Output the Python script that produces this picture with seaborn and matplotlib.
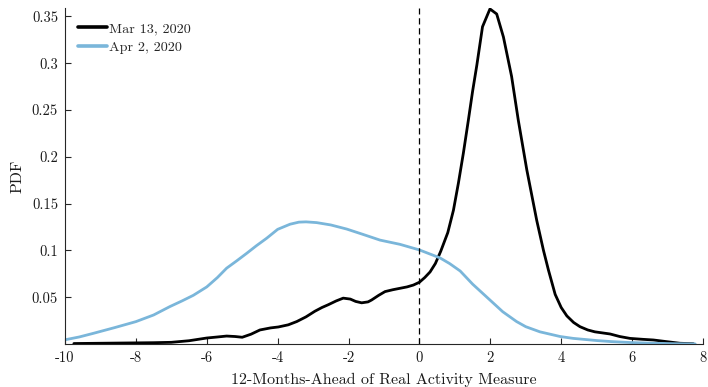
import numpy as np
import pandas as pd
import matplotlib
matplotlib.use("Agg")
import matplotlib.pyplot as plt
import seaborn as sns

# Density of the 12-months-ahead real activity measure, two forecast dates
mar_x = [-9.75, -9.0, -8.0, -7.5, -7.0, -6.5, -6.0, -5.7, -5.44, -5.2, -5.0,
         -4.75, -4.5, -4.2, -3.98, -3.7, -3.46, -3.2, -2.95, -2.75, -2.57,
         -2.35, -2.15, -1.95, -1.8, -1.63, -1.45, -1.35, -1.15, -0.97, -0.75,
         -0.55, -0.35, -0.17, 0.0, 0.15, 0.30, 0.45, 0.6, 0.8, 0.96, 1.1,
         1.24, 1.38, 1.5, 1.62, 1.78, 1.99, 2.18, 2.37, 2.6, 2.79, 3.03,
         3.31, 3.5, 3.64, 3.83, 4.0, 4.16, 4.35, 4.53, 4.75, 4.95, 5.38,
         5.65, 5.94, 6.3, 6.6, 6.98, 7.35, 7.73]
mar_pdf = [0.0005, 0.0008, 0.0012, 0.0014, 0.0018, 0.0035, 0.0064, 0.0075,
           0.0085, 0.0080, 0.0072, 0.0105, 0.0150, 0.0172, 0.0182, 0.0205,
           0.0240, 0.0290, 0.0350, 0.0390, 0.0420, 0.0460, 0.0490, 0.0480,
           0.0455, 0.0440, 0.0450, 0.0470, 0.0520, 0.0560, 0.0580, 0.0595,
           0.0610, 0.0630, 0.0660, 0.0710, 0.0770, 0.0860, 0.0990, 0.1190,
           0.1430, 0.1720, 0.2040, 0.2390, 0.2700, 0.2980, 0.3390, 0.3580,
           0.3526, 0.3280, 0.2860, 0.2390, 0.1860, 0.1320, 0.1000, 0.0790,
           0.0530, 0.0390, 0.0300, 0.0230, 0.0185, 0.0150, 0.0130, 0.0107,
           0.0080, 0.0060, 0.0050, 0.0043, 0.0025, 0.0008, 0.0003]

apr_x = [-10.0, -9.6, -9.2, -8.6, -8.0, -7.5, -7.04, -6.7, -6.38, -6.0, -5.7,
         -5.44, -5.15, -4.87, -4.6, -4.31, -4.0, -3.65, -3.4, -3.2, -2.9,
         -2.5, -2.05, -1.6, -1.11, -0.55, 0.0, 0.58, 0.85, 1.15, 1.5, 1.99,
         2.35, 2.74, 3.0, 3.4, 3.97, 4.34, 5.0, 5.4, 5.94, 6.5, 7.2, 7.78]
apr_pdf = [0.0045, 0.0075, 0.0114, 0.0175, 0.0239, 0.0310, 0.0400, 0.0460,
           0.0520, 0.0610, 0.0710, 0.0810, 0.0890, 0.0970, 0.1050, 0.1130,
           0.1225, 0.1280, 0.1302, 0.1305, 0.1297, 0.1272, 0.1228, 0.1172,
           0.1110, 0.1065, 0.1005, 0.0920, 0.0860, 0.0780, 0.0640, 0.0470,
           0.0345, 0.0240, 0.0185, 0.0130, 0.0080, 0.0060, 0.0037, 0.0026,
           0.0016, 0.0009, 0.0003, 0.0001]

series_names = ["Mar 13, 2020", "Apr 2, 2020"]
series_colors = ["#000000", "#7ab6da"]

x_ticks = [-10, -8, -6, -4, -2, 0, 2, 4, 6, 8]
x_tick_labels = ["-10", "-8", "-6", "-4", "-2", "0", "2", "4", "6", "8"]
y_ticks = [0.05, 0.1, 0.15, 0.2, 0.25, 0.3, 0.35]
y_tick_labels = ["0.05", "0.1", "0.15", "0.2", "0.25", "0.3", "0.35"]

df = pd.concat([
    pd.DataFrame({"x": mar_x, "pdf": mar_pdf, "date": series_names[0]}),
    pd.DataFrame({"x": apr_x, "pdf": apr_pdf, "date": series_names[1]}),
], ignore_index=True)

sns.set_style("ticks")
plt.rcParams["font.family"] = ["cmr10", "DejaVu Serif"]
plt.rcParams["mathtext.fontset"] = "cm"
plt.rcParams["axes.unicode_minus"] = False
plt.rcParams["axes.formatter.use_mathtext"] = True

fig = plt.figure(figsize=(7.08, 3.87), dpi=100)
ax = fig.add_axes([0.0918, 0.1111, 0.9011, 0.8675])

sns.lineplot(data=df, x="x", y="pdf", hue="date", hue_order=series_names,
             palette=series_colors, sort=False, estimator=None,
             linewidth=2.0, ax=ax)
for line in ax.get_lines():
    line.set_solid_joinstyle("round")
    line.set_solid_capstyle("round")

ax.axvline(0, color="black", linestyle=(0, (5, 3)), linewidth=0.9)

ax.set_xlim(-10, 8)
ax.set_ylim(0, 0.3587)
ax.set_xticks(x_ticks)
ax.set_xticklabels(x_tick_labels)
ax.set_yticks(y_ticks)
ax.set_yticklabels(y_tick_labels)

axis_grey = "#262626"
for side in ("top", "right"):
    ax.spines[side].set_visible(False)
for side in ("left", "bottom"):
    ax.spines[side].set_color(axis_grey)
    ax.spines[side].set_linewidth(0.8)
ax.tick_params(bottom=True, left=True, top=False, right=False,
               direction="in", length=4.5, width=0.8, color=axis_grey,
               labelsize=10.5, labelcolor="#1a1a1a", pad=5)

ax.set_xlabel("12-Months-Ahead of Real Activity Measure", fontsize=11.5,
              labelpad=6, color="#1a1a1a")
ax.set_ylabel("PDF", fontsize=11.5, labelpad=5, color="#1a1a1a")

leg = ax.legend(loc="upper left", frameon=False, fontsize=10.2,
                handlelength=2.0, handletextpad=0.15, borderaxespad=0.0,
                labelspacing=0.4, bbox_to_anchor=(0.012, 0.975))
for line in leg.get_lines():
    line.set_linewidth(2.6)

fig.savefig("out.png", dpi=100)
